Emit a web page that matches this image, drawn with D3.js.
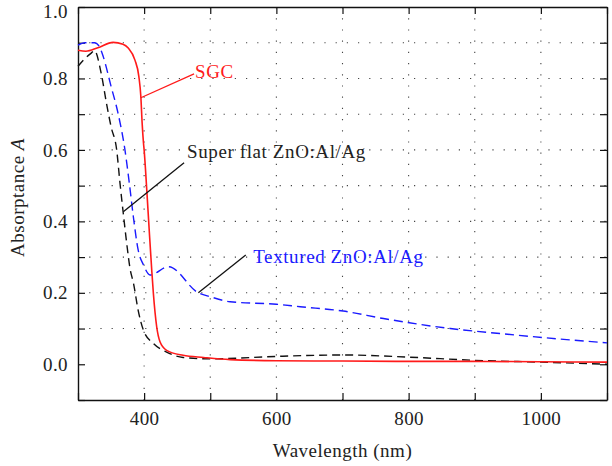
<!doctype html>
<html>
  <head>
    <script src="https://cdn.jsdelivr.net/npm/d3@7/dist/d3.min.js"></script>
    <style>
      body { margin: 0; background: #fff; }
      text { font-family: "Liberation Serif", "Times New Roman", serif; fill: #222; }
    </style>
  </head>
  <body>
    <script>
        // wavelength (nm) / absorptance
        var sgcX = [300, 312, 330, 353, 368, 376, 386, 392, 395, 397, 399, 400, 404, 408, 411.5, 414, 419, 424, 434, 459, 490, 530, 600, 700, 800, 900, 1000, 1100];
        var sgcY = [0.879, 0.876, 0.886, 0.901, 0.896, 0.885, 0.852, 0.806, 0.75, 0.675, 0.62, 0.6, 0.488, 0.366, 0.264, 0.198, 0.105, 0.063, 0.039, 0.025, 0.019, 0.013, 0.010, 0.009, 0.008, 0.008, 0.007, 0.006];

        var flatX = [300, 310, 320, 325, 335, 343, 350, 358.5, 363.5, 368.5, 373.7, 378.7, 384, 391, 399, 414, 434, 459, 500, 600, 700, 800, 900, 1000, 1100];
        var flatY = [0.834, 0.855, 0.871, 0.878, 0.815, 0.731, 0.665, 0.6, 0.507, 0.422, 0.338, 0.268, 0.226, 0.151, 0.095, 0.058, 0.034, 0.019, 0.015, 0.022, 0.026, 0.020, 0.011, 0.006, 0.0];

        var textX = [300, 310, 325, 332, 338, 350, 360.5, 371, 377.6, 383.7, 391, 399, 409, 437, 482, 500, 530, 600, 636, 701, 762, 863, 938, 1039, 1100];
        var textY = [0.893, 0.9, 0.9, 0.89, 0.862, 0.778, 0.703, 0.6, 0.507, 0.413, 0.32, 0.278, 0.25, 0.273, 0.2, 0.189, 0.175, 0.168, 0.161, 0.149, 0.128, 0.1, 0.086, 0.069, 0.06];

        var xTicks = [400, 600, 800, 1000];
        var yTicks = [0.0, 0.2, 0.4, 0.6, 0.8, 1.0];

        var margin = {top: 7, right: 5, bottom: 66, left: 78},
            width = 612 - margin.left - margin.right,
            height = 466 - margin.top - margin.bottom;

        var svg = d3.select("body").append("svg")
            .attr("width", 612)
            .attr("height", 466)
            .append("g")
            .attr("transform", `translate(${margin.left},${margin.top})`);

        var x = d3.scaleLinear().domain([300, 1100]).range([0, width]);
        var y = d3.scaleLinear().domain([-0.1, 1.0]).range([height, 0]);

        // dotted grid
        var gx = d3.range(400, 1100, 100), gy = d3.range(1, 10).map(d => d / 10);
        svg.selectAll(".gx").data(gx).enter().append("line")
            .attr("x1", d => x(d)).attr("x2", d => x(d))
            .attr("y1", 0).attr("y2", height)
            .attr("stroke", "#444").attr("stroke-width", 1.1)
            .attr("stroke-dasharray", "1.2,10");
        svg.selectAll(".gy").data(gy).enter().append("line")
            .attr("x1", 0).attr("x2", width)
            .attr("y1", d => y(d)).attr("y2", d => y(d))
            .attr("stroke", "#444").attr("stroke-width", 1.1)
            .attr("stroke-dasharray", "1.2,10");

        // axes, ticks inward on all four sides
        var ax = d3.range(300, 1101, 100), ay = d3.range(-1, 11).map(d => d / 10);
        function frame(g, axis) {
            g.call(axis);
            g.select(".domain").attr("stroke", "#111").attr("stroke-width", 1.4);
            g.selectAll(".tick line").attr("stroke", "#111").attr("stroke-width", 1.2);
            g.selectAll("text").attr("font-size", "19px").attr("font-family", "Liberation Serif, serif")
                .attr("letter-spacing", "0.4px").attr("fill", "#222");
        }
        svg.append("g").attr("transform", `translate(0,${height})`)
            .call(g => frame(g, d3.axisBottom(x).tickValues(ax).tickSizeInner(-7).tickSizeOuter(0)
                .tickPadding(12).tickFormat(d => xTicks.includes(d) ? d : "")));
        svg.append("g")
            .call(g => frame(g, d3.axisTop(x).tickValues(ax).tickSizeInner(-7).tickSizeOuter(0).tickFormat("")));
        svg.append("g")
            .call(g => frame(g, d3.axisLeft(y).tickValues(ay).tickSizeInner(-7).tickSizeOuter(0)
                .tickPadding(10).tickFormat(d => yTicks.some(t => Math.abs(t - d) < 1e-9) ? d3.format(".1f")(d) : "")))
            .selectAll(".tick text").filter(d => d === 1).attr("dy", "0.55em");
        svg.append("g").attr("transform", `translate(${width},0)`)
            .call(g => frame(g, d3.axisRight(y).tickValues(ay).tickSizeInner(-7).tickSizeOuter(0).tickFormat("")));

        var line = d3.line().x(d => x(d[0])).y(d => y(d[1])).curve(d3.curveMonotoneX);

        svg.append("path").datum(d3.zip(flatX, flatY))
            .attr("d", line).attr("fill", "none")
            .attr("stroke", "#111").attr("stroke-width", 1.4).attr("stroke-dasharray", "8,5");
        svg.append("path").datum(d3.zip(textX, textY))
            .attr("d", line).attr("fill", "none")
            .attr("stroke", "#1a1aff").attr("stroke-width", 1.4).attr("stroke-dasharray", "9,5");
        svg.append("path").datum(d3.zip(sgcX, sgcY))
            .attr("d", line).attr("fill", "none")
            .attr("stroke", "#ff1a1a").attr("stroke-width", 1.6);

        // annotations (data coordinates)
        var labels = [
            {text: "SGC", color: "#ff1a1a", lineColor: "#ff1a1a", from: [395, 0.746], to: [475.5, 0.813], at: [477, 0.802]},
            {text: "Super flat ZnO:Al/Ag", color: "#222", lineColor: "#111", from: [368.5, 0.427], to: [460.4, 0.564], at: [465, 0.578]},
            {text: "Textured ZnO:Al/Ag", color: "#1a1aff", lineColor: "#111", from: [482, 0.2], to: [553.7, 0.306], at: [565, 0.284]}
        ];
        labels.forEach(function(l) {
            svg.append("line")
                .attr("x1", x(l.from[0])).attr("y1", y(l.from[1]))
                .attr("x2", x(l.to[0])).attr("y2", y(l.to[1]))
                .attr("stroke", l.lineColor).attr("stroke-width", 1.3);
            svg.append("text")
                .attr("x", x(l.at[0])).attr("y", y(l.at[1]))
                .attr("font-size", "19px").attr("letter-spacing", "0.6px").style("fill", l.color)
                .text(l.text);
        });

        // axis titles
        svg.append("text")
            .attr("x", width / 2).attr("y", height + 57)
            .attr("text-anchor", "middle").attr("font-size", "19px").attr("letter-spacing", "0.5px")
            .text("Wavelength (nm)");
        svg.append("text")
            .attr("transform", `translate(${-54},${height / 2 - 6}) rotate(-90)`)
            .attr("text-anchor", "middle").attr("font-size", "19px").attr("letter-spacing", "0.5px")
            .html('Absorptance <tspan font-style="italic">A</tspan>');
    </script>
  </body>
</html>
